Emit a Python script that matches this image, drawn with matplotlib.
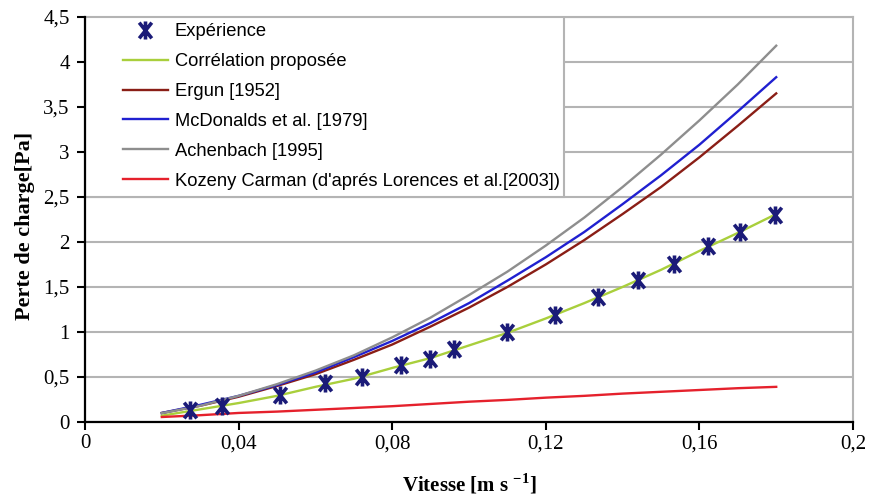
import matplotlib
matplotlib.use("Agg")
import matplotlib.pyplot as plt
from matplotlib.patches import Rectangle
from matplotlib.path import Path

plt.rcParams['mathtext.fontset'] = 'custom'
plt.rcParams['mathtext.rm'] = 'Liberation Serif'
plt.rcParams['mathtext.bf'] = 'Liberation Serif:bold'

# vitesse (m/s) for the model curves
v = [0.02, 0.03, 0.04, 0.05, 0.06, 0.07, 0.08, 0.09, 0.10, 0.11, 0.12,
     0.13, 0.14, 0.15, 0.16, 0.17, 0.18]
correlation = [0.07, 0.14, 0.21, 0.29, 0.39, 0.48, 0.60, 0.71, 0.85, 0.99,
               1.15, 1.32, 1.50, 1.69, 1.90, 2.10, 2.31]
ergun = [0.10, 0.18, 0.28, 0.40, 0.53, 0.69, 0.86, 1.06, 1.27, 1.50, 1.75,
         2.02, 2.31, 2.61, 2.94, 3.29, 3.65]
mcdonald = [0.10, 0.19, 0.29, 0.41, 0.55, 0.72, 0.90, 1.10, 1.32, 1.57, 1.83,
            2.11, 2.42, 2.74, 3.08, 3.45, 3.83]
achenbach = [0.098, 0.18, 0.29, 0.42, 0.57, 0.74, 0.94, 1.16, 1.41, 1.67, 1.96,
             2.27, 2.61, 2.97, 3.35, 3.75, 4.18]
kozeny = [0.055, 0.075, 0.10, 0.115, 0.135, 0.155, 0.175, 0.20, 0.225, 0.245,
          0.27, 0.29, 0.315, 0.335, 0.355, 0.375, 0.39]

# mesures
v_exp = [0.0273, 0.0357, 0.0508, 0.0625, 0.0721, 0.0823, 0.0898, 0.0961, 0.110,
         0.1224, 0.1336, 0.144, 0.1534, 0.1622, 0.1706, 0.1797]
dp_exp = [0.133, 0.177, 0.30, 0.43, 0.50, 0.63, 0.70, 0.81, 1.0, 1.19, 1.385,
          1.575, 1.75, 1.96, 2.11, 2.30]

xticks = [0, 0.04, 0.08, 0.12, 0.16, 0.2]
xlabels = ['0', '0,04', '0,08', '0,12', '0,16', '0,2']
yticks = [0, 0.5, 1, 1.5, 2, 2.5, 3, 3.5, 4, 4.5]
ylabels = ['0', '0,5', '1', '1,5', '2', '2,5', '3', '3,5', '4', '4,5']

# marqueur "étoile" façon Excel : un X avec un trait vertical
star = Path([(-0.8, -1), (0.8, 1), (-0.8, 1), (0.8, -1), (0, -1.15), (0, 1.15)],
            [Path.MOVETO, Path.LINETO, Path.MOVETO, Path.LINETO, Path.MOVETO, Path.LINETO])

fig = plt.figure(figsize=(8.73, 4.97), dpi=100)
ax = fig.add_axes([0.0974, 0.151, 0.8797, 0.815])

ax.plot(v_exp, dp_exp, linestyle='none', marker=star, markersize=13,
        markeredgewidth=2.6, color='#1b1b78', label='Expérience', zorder=6)
ax.plot(v, correlation, color='#a9cf3c', lw=1.7, label='Corrélation proposée', zorder=4)
ax.plot(v, ergun, color='#8a1e16', lw=1.7, label='Ergun [1952]', zorder=4)
ax.plot(v, mcdonald, color='#2020d0', lw=1.7, label='McDonalds et al. [1979]', zorder=4)
ax.plot(v, achenbach, color='#8e8e8e', lw=1.7, label='Achenbach [1995]', zorder=4)
ax.plot(v, kozeny, color='#e5212c', lw=1.7,
        label="Kozeny Carman (d'aprés Lorences et al.[2003])", zorder=4)

ax.set_xlim(0, 0.2)
ax.set_ylim(0, 4.5)
ax.set_xticks(xticks)
ax.set_xticklabels(xlabels)
ax.set_yticks(yticks)
ax.set_yticklabels(ylabels)
ax.yaxis.grid(True, color='#b4b4b4', lw=1.5)
ax.set_axisbelow(True)
for lab in ax.get_xticklabels() + ax.get_yticklabels():
    lab.set_fontfamily('Liberation Serif')
    lab.set_fontsize(15)
ax.tick_params(direction='out', length=6, width=1.5)
ax.tick_params(axis='x', pad=3)
ax.tick_params(axis='y', pad=5)

for s in ['top', 'right']:
    ax.spines[s].set_color('#b4b4b4')
    ax.spines[s].set_linewidth(1.5)
for s in ['left', 'bottom']:
    ax.spines[s].set_linewidth(1.6)
    ax.spines[s].set_zorder(8)

ax.set_xlabel(r'Vitesse [m s $^{\mathbf{-1}}$]', fontfamily='Liberation Serif',
              fontweight='bold', fontsize=15, labelpad=13)
ax.set_ylabel('Perte de charge[Pa]', fontfamily='Liberation Serif',
              fontweight='bold', fontsize=16)
ax.yaxis.set_label_coords(-0.065, 0.484)

# cadre de la légende
ax.add_patch(Rectangle((0, 2.5), 0.1247, 2.0, facecolor='white',
                       edgecolor='#b4b4b4', lw=1.5, zorder=5))
leg = ax.legend(loc='upper left', bbox_to_anchor=(0.049, 0.984), frameon=False,
                borderpad=0, borderaxespad=0, handlelength=2.45, handletextpad=0.38,
                labelspacing=0.70, prop={'family': 'Liberation Sans', 'size': 13.2})
leg.set_zorder(7)

fig.savefig('out.png', dpi=100)
